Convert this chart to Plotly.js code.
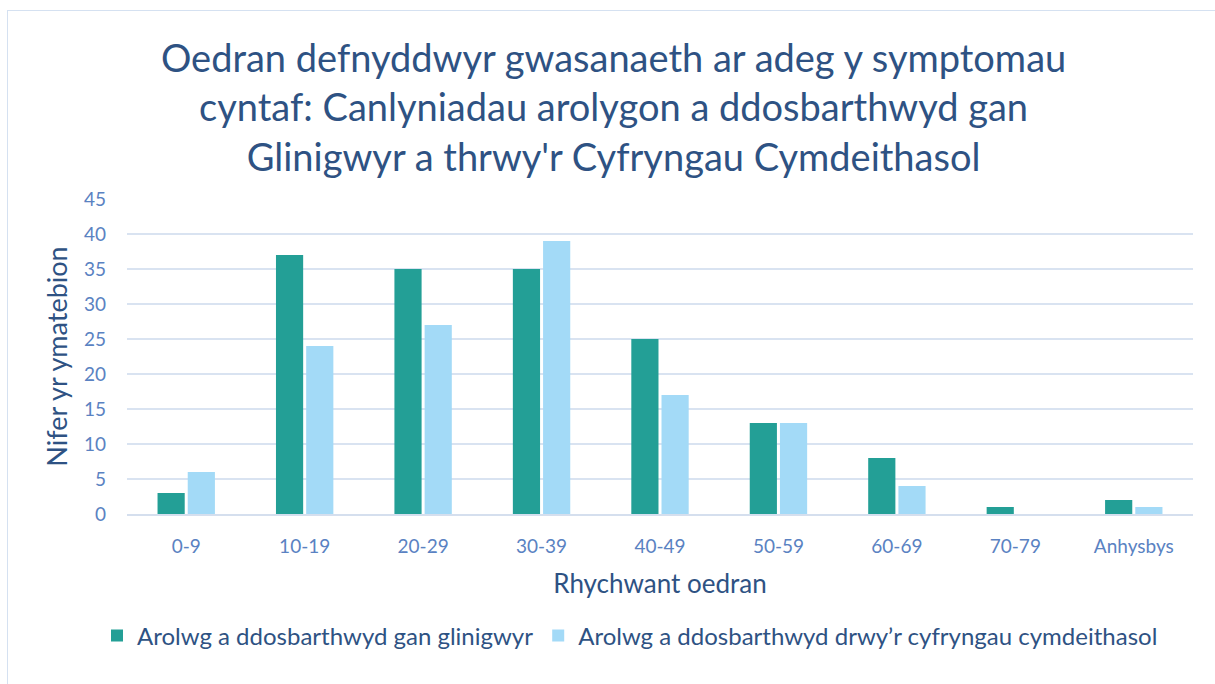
<!DOCTYPE html>
<html>
<head>
<meta charset="utf-8">
<script src="https://cdn.plot.ly/plotly-3.0.1.min.js"></script>
<style>
html,body{margin:0;padding:0;background:#fff;}
#frame{position:absolute;left:7px;top:10px;width:1230px;height:700px;border:1.5px solid #D5E1F1;box-sizing:border-box;}
#chart{position:absolute;left:0;top:0;width:1215px;height:684px;}
</style>
</head>
<body>
<div id="frame"></div>
<div id="chart"></div>
<script>
const categories = ["0-9","10-19","20-29","30-39","40-49","50-59","60-69","70-79","Anhysbys"];
const clinicians = [3,37,35,35,25,13,8,1,2];
const socialMedia = [6,24,27,39,17,13,4,0,1];
const seriesNames = ["Arolwg a ddosbarthwyd gan glinigwyr","Arolwg a ddosbarthwyd drwy’r cyfryngau cymdeithasol"];
const yTicks = [0,5,10,15,20,25,30,35,40,45];

const FONT = "Lato, 'Open Sans', sans-serif";
const data = [
  {type:'bar', x:categories, y:clinicians, name:seriesNames[0], marker:{color:'#239F96'}},
  {type:'bar', x:categories, y:socialMedia, name:seriesNames[1], marker:{color:'#A3DAF7'}}
];
const layout = {
  width:1215, height:684,
  paper_bgcolor:'rgba(0,0,0,0)', plot_bgcolor:'rgba(0,0,0,0)',
  margin:{l:127, r:22, t:199, b:170, autoexpand:false},
  barmode:'group', bargap:0.49, bargroupgap:0.1,
  title:{text:"Oedran defnyddwyr gwasanaeth ar adeg y symptomau<br>cyntaf: Canlyniadau arolygon a ddosbarthwyd gan<br>Glinigwyr a thrwy'r Cyfryngau Cymdeithasol",
    font:{family:FONT, size:38, color:'#2E5283'}, x:0.505, xanchor:'center', yref:'container', y:1-72/684, yanchor:'middle'},
  xaxis:{tickfont:{family:FONT,size:19,color:'#5A82C2'}, showline:true, linecolor:'#D5DFEE', linewidth:2,
    ticks:'', ticklabelstandoff:14, title:{text:'Rhychwant oedran', font:{family:FONT,size:26,color:'#2E5283'}, standoff:19}},
  yaxis:{range:[0,45], tickvals:yTicks, tickfont:{family:FONT,size:19,color:'#5A82C2'},
    gridcolor:'#D9E3F1', gridwidth:1.5, zeroline:false, ticks:'', ticklen:0, ticklabelstandoff:20,
    title:{text:'Nifer yr ymatebion', font:{family:FONT,size:27,color:'#2E5283'}, standoff:8}},
  legend:{orientation:'h', xref:'container', yref:'container', x:630/1215, xanchor:'center', y:1-636/684, yanchor:'middle',
    font:{family:FONT,size:24,color:'#2E5283'}, itemwidth:30},
  showlegend:true
};
Plotly.newPlot('chart', data, layout, {displayModeBar:false, staticPlot:true});
</script>
</body>
</html>
